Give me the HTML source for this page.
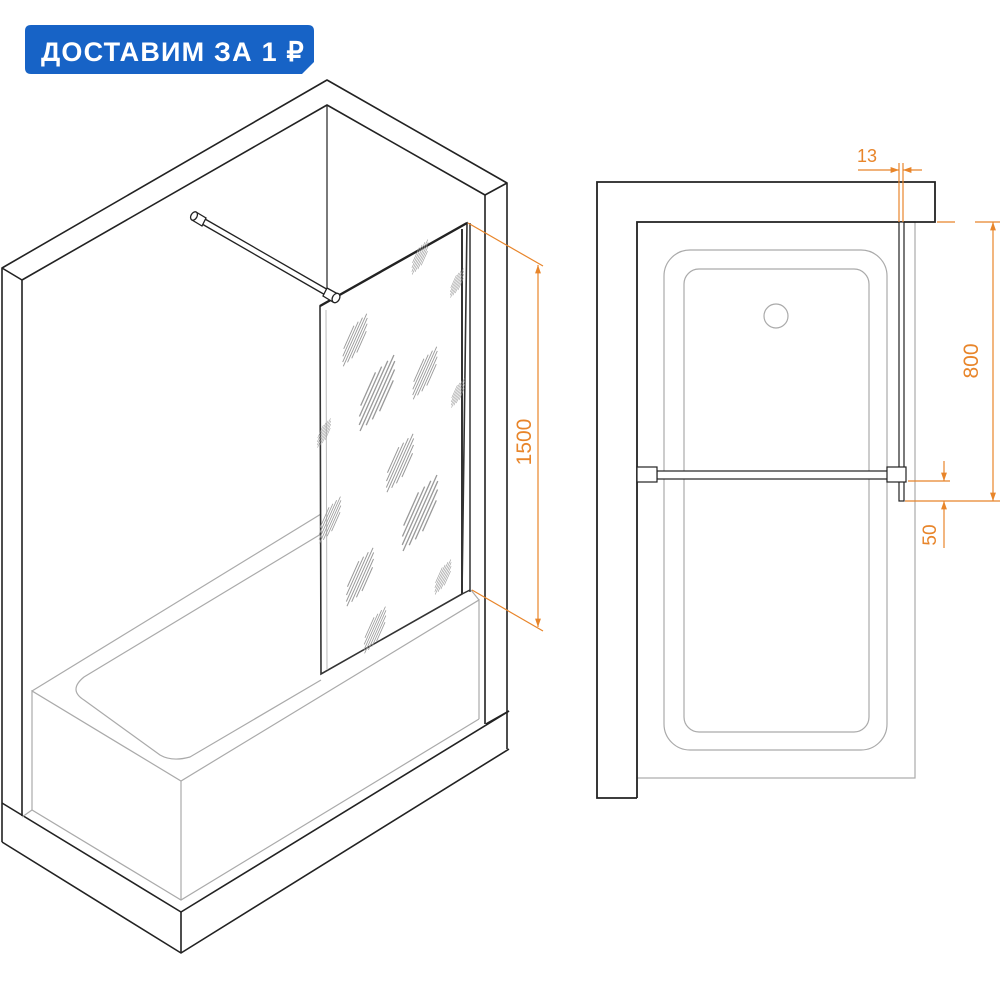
<!DOCTYPE html>
<html><head><meta charset="utf-8"><style>
html,body{margin:0;padding:0;background:#fff;width:1000px;height:1000px;overflow:hidden}
svg{display:block}
</style></head><body>
<svg width="1000" height="1000" viewBox="0 0 1000 1000" xmlns="http://www.w3.org/2000/svg">
<defs>
<g id="st" stroke="#999" stroke-width="1" fill="none">
<line x1="-14" y1="-7.5" x2="14" y2="-7.5"/>
<line x1="-22" y1="-5" x2="20" y2="-5"/>
<line x1="-28" y1="-2.5" x2="26" y2="-2.5"/>
<line x1="-32" y1="0" x2="32" y2="0"/>
<line x1="-26" y1="2.5" x2="28" y2="2.5"/>
<line x1="-20" y1="5" x2="22" y2="5"/>
<line x1="-12" y1="7.5" x2="14" y2="7.5"/>
</g>
<marker id="ar" viewBox="0 0 10 10" refX="10" refY="5" markerWidth="7" markerHeight="7" orient="auto-start-reverse"><path d="M0,1.5 L10,5 L0,8.5 Z" fill="#e8852a"/></marker>
</defs>

<!-- badge -->
<path d="M31,25 H308 Q314,25 314,31 V62 L302,74 H31 Q25,74 25,68 V31 Q25,25 31,25 Z" fill="#1763c6"/>
<text x="41" y="61" font-family="Liberation Sans, sans-serif" font-weight="bold" font-size="27" fill="#fff" letter-spacing="1.2">ДОСТАВИМ ЗА 1 ₽</text>

<!-- LEFT ISO VIEW -->
<g stroke="#222" stroke-width="1.6" fill="none" stroke-linejoin="round">
<polyline points="2,842 2,268 327,80 507,183 507,749"/>
<polyline points="22,816 22,280 327,105 485,195 485,724"/>
<line x1="2" y1="268" x2="22" y2="280"/>
<line x1="507" y1="183" x2="485" y2="195"/>
<line x1="327" y1="105" x2="327" y2="292" stroke-width="1.2"/>
<polyline points="2,803 181,912 509,711"/>
<polyline points="2,842 181,953 509,749"/>
<line x1="181" y1="912" x2="181" y2="953"/>
<line x1="486" y1="724" x2="509" y2="711"/>
</g>
<g stroke="#aaa" stroke-width="1.2" fill="none">
<polyline points="22,817 32,810 181,900 479,719"/>
<polyline points="32,810 32,691 181,781 479,600 479,719"/>
<line x1="181" y1="781" x2="181" y2="900"/>
<line x1="32" y1="691" x2="321" y2="514"/>
<path d="M321,534 L84,677 Q68,690 84,700 L160,755 Q172,762 190,757 L321,680"/>
<line x1="471" y1="590" x2="479" y2="600"/>
</g>
<g fill="none">
<line x1="470" y1="223" x2="470" y2="592" stroke="#333" stroke-width="1.5"/>
<line x1="462" y1="229" x2="462" y2="594" stroke="#333" stroke-width="2"/>
<polygon points="320,306 467,223 462,594 321,674" stroke="#333" stroke-width="1.6"/>
<line x1="320" y1="306" x2="467" y2="223" stroke="#222" stroke-width="2.4"/>
<line x1="462" y1="594" x2="470" y2="590" stroke="#333" stroke-width="1.5"/>
<line x1="326" y1="310" x2="327" y2="670" stroke="#bbb" stroke-width="1"/>
</g>
<g>
<use href="#st" transform="translate(420,257) rotate(-66) scale(0.6)"/>
<use href="#st" transform="translate(457,283) rotate(-66) scale(0.5)"/>
<use href="#st" transform="translate(355,340) rotate(-66) scale(0.9)"/>
<use href="#st" transform="translate(377,393) rotate(-66) scale(1.3)"/>
<use href="#st" transform="translate(425,373) rotate(-66) scale(0.9)"/>
<use href="#st" transform="translate(400,463) rotate(-66) scale(1.0)"/>
<use href="#st" transform="translate(420,513) rotate(-66) scale(1.3)"/>
<use href="#st" transform="translate(330,520) rotate(-66) scale(0.8)"/>
<use href="#st" transform="translate(360,577) rotate(-66) scale(1.0)"/>
<use href="#st" transform="translate(443,577) rotate(-66) scale(0.6)"/>
<use href="#st" transform="translate(375,630) rotate(-66) scale(0.8)"/>
<use href="#st" transform="translate(458,393) rotate(-66) scale(0.5)"/>
<use href="#st" transform="translate(324,433) rotate(-66) scale(0.5)"/>
</g>
<g stroke="#222" stroke-width="1.3" fill="#fff">
<line x1="205" y1="219" x2="330" y2="291"/>
<line x1="202" y1="224" x2="327" y2="296"/>
<path d="M196,212 L206,218 L202,226 L192,220 Z"/>
<ellipse cx="194" cy="216" rx="3" ry="4.5" transform="rotate(30 194 216)"/>
<path d="M327,288 L338,294 L333,302 L323,296 Z"/>
<ellipse cx="336" cy="298" rx="3.5" ry="5" transform="rotate(30 336 298)"/>
</g>
<g stroke="#e8852a" stroke-width="1.2" fill="none">
<line x1="468" y1="223" x2="543" y2="266"/>
<line x1="472" y1="590" x2="543" y2="631"/>
<line x1="538" y1="265" x2="538" y2="627" marker-start="url(#ar)" marker-end="url(#ar)"/>
</g>
<text transform="translate(531,442) rotate(-90)" text-anchor="middle" font-family="Liberation Sans, sans-serif" font-size="21" fill="#e8852a">1500</text>

<!-- RIGHT PLAN VIEW -->
<g stroke="#aaa" stroke-width="1.2" fill="none">
<rect x="637" y="222" width="278" height="556"/>
<rect x="664" y="250" width="223" height="500" rx="26"/>
<rect x="684" y="269" width="185" height="463" rx="15"/>
<circle cx="776" cy="316" r="12"/>
</g>
<g stroke="#222" stroke-width="1.8" fill="none">
<polyline points="637,798 597,798 597,182 935,182 935,222 637,222 637,798"/>
</g>
<g stroke="#222" stroke-width="1.2" fill="#fff">
<rect x="899" y="222" width="5" height="279"/>
<rect x="657" y="471" width="232" height="8"/>
<rect x="637" y="467" width="20" height="15"/>
<rect x="887" y="467" width="19" height="15"/>
</g>
<g stroke="#e8852a" stroke-width="1.2" fill="none">
<line x1="899" y1="163" x2="899" y2="222"/>
<line x1="903" y1="163" x2="903" y2="222"/>
<line x1="858" y1="170" x2="899" y2="170" marker-end="url(#ar)"/>
<line x1="922" y1="170" x2="903" y2="170" marker-end="url(#ar)"/>
<line x1="937" y1="222" x2="955" y2="222"/>
<line x1="975" y1="222" x2="1000" y2="222"/>
<line x1="905" y1="501" x2="1000" y2="501"/>
<line x1="993" y1="222" x2="993" y2="501" marker-start="url(#ar)" marker-end="url(#ar)"/>
<line x1="908" y1="481" x2="950" y2="481"/>
<line x1="944" y1="461" x2="944" y2="481" marker-end="url(#ar)"/>
<line x1="944" y1="548" x2="944" y2="501" marker-end="url(#ar)"/>
</g>
<text x="867" y="162" text-anchor="middle" font-family="Liberation Sans, sans-serif" font-size="18" fill="#e8852a">13</text>
<text transform="translate(978,361) rotate(-90)" text-anchor="middle" font-family="Liberation Sans, sans-serif" font-size="21" fill="#e8852a">800</text>
<text transform="translate(936,535) rotate(-90)" text-anchor="middle" font-family="Liberation Sans, sans-serif" font-size="19" fill="#e8852a">50</text>
</svg>
</body></html>
